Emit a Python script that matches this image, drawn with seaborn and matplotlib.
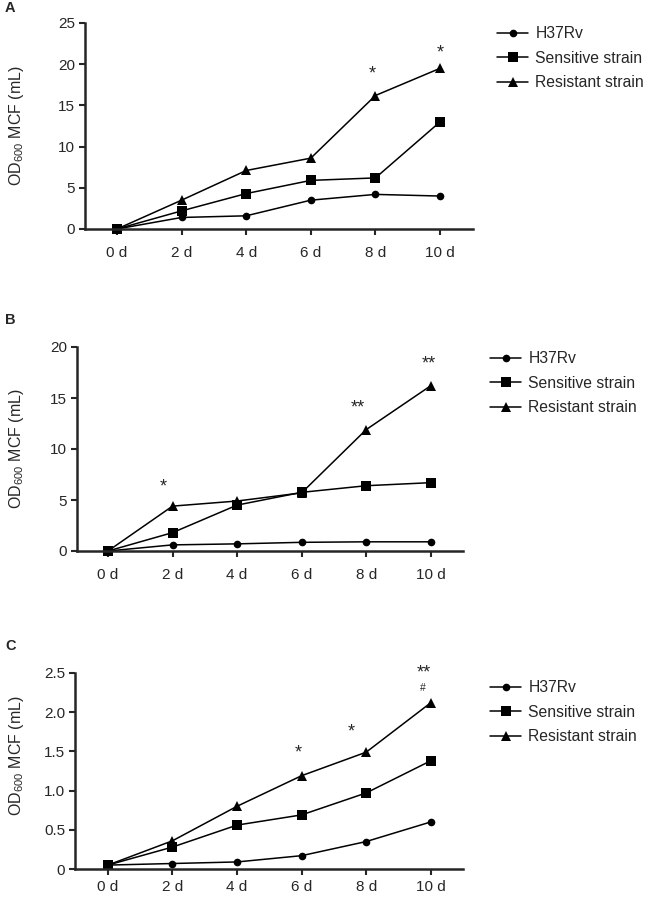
import numpy as np
import pandas as pd
import matplotlib
matplotlib.use('Agg')
import matplotlib.pyplot as plt
import seaborn as sns

# days on x axis
days = [0, 2, 4, 6, 8, 10]
day_labels = ['0 d', '2 d', '4 d', '6 d', '8 d', '10 d']
strains = ['H37Rv', 'Sensitive strain', 'Resistant strain']

# panel A values
a_h37rv = [0.0, 1.4, 1.6, 3.5, 4.2, 4.0]
a_sensitive = [0.0, 2.2, 4.3, 5.9, 6.2, 13.0]
a_resistant = [0.0, 3.5, 7.1, 8.6, 16.2, 19.5]

# panel B values
b_h37rv = [0.0, 0.6, 0.7, 0.85, 0.9, 0.9]
b_sensitive = [0.0, 1.8, 4.5, 5.75, 6.4, 6.7]
b_resistant = [0.0, 4.4, 4.9, 5.7, 11.9, 16.2]

# panel C values
c_h37rv = [0.05, 0.07, 0.09, 0.17, 0.35, 0.6]
c_sensitive = [0.05, 0.28, 0.56, 0.69, 0.97, 1.38]
c_resistant = [0.05, 0.36, 0.8, 1.19, 1.49, 2.12]

# significance marks: (text, day, y)
a_marks = [('*', 7.9, 19.5), ('*', 10.0, 22.0)]
b_marks = [('*', 1.7, 6.8), ('**', 7.75, 14.5), ('**', 9.95, 18.8)]
c_marks = [('*', 5.9, 1.55), ('*', 7.55, 1.82), ('**', 9.8, 2.57)]
c_hash = [('#', 9.75, 2.32)]

a_yticks = [0, 5, 10, 15, 20, 25]
b_yticks = [0, 5, 10, 15, 20]
c_yticks = [0, 0.5, 1.0, 1.5, 2.0, 2.5]
c_ylabels = ['0', '0.5', '1.0', '1.5', '2.0', '2.5']

sns.set_style('ticks')
plt.rcParams['font.family'] = ['Liberation Sans', 'DejaVu Sans']
plt.rcParams['mathtext.fontset'] = 'custom'
plt.rcParams['mathtext.rm'] = 'Liberation Sans'

fig = plt.figure(figsize=(6.47, 8.97), dpi=100)
W, H = 647, 897


def ax_at(left, top, right, bottom):
    return fig.add_axes([left / W, 1 - bottom / H, (right - left) / W, (bottom - top) / H])


marker_style = {'H37Rv': ('o', 5.5), 'Sensitive strain': ('s', 7), 'Resistant strain': ('^', 7)}


def draw_panel(ax, series, xlim, ylim, yticks, ylabels, marks, label_x, leg_xy,
               label_y=0.5, xpad=8):
    df = pd.DataFrame({
        'day': days * 3,
        'value': series[0] + series[1] + series[2],
        'strain': np.repeat(strains, len(days)),
    })
    for s in strains:
        m, ms = marker_style[s]
        sub = df[df['strain'] == s]
        sns.lineplot(data=sub, x='day', y='value', ax=ax, color='black', lw=1.1,
                     marker=m, markersize=ms, markeredgewidth=0, clip_on=False, label=s)
    ax.set_xlim(*xlim)
    ax.set_ylim(*ylim)
    ax.set_xticks(days)
    ax.set_xticklabels(day_labels)
    ax.set_yticks(yticks)
    ax.set_yticklabels(ylabels)
    ax.set_xlabel('')
    ax.set_ylabel(r'OD$_{\mathregular{600}}$ MCF (mL)', fontsize=11.5)
    ax.yaxis.set_label_coords(label_x, label_y)
    sns.despine(ax=ax)
    for sp in ['left', 'bottom']:
        ax.spines[sp].set_linewidth(1.8)
    ax.tick_params(axis='both', direction='out', length=4, width=1.5, labelsize=11, pad=3)
    ax.tick_params(axis='x', pad=xpad)
    for txt, x, y in marks:
        ax.annotate(txt, (x, y), xytext=(0, -7), textcoords='offset points',
                    ha='center', va='baseline', fontsize=13, annotation_clip=False)
    ax.legend(loc='upper left', bbox_to_anchor=(leg_xy[0] / W, 1 - leg_xy[1] / H),
              bbox_transform=fig.transFigure, frameon=False, fontsize=11.3,
              handlelength=2.0, handletextpad=0.45, labelspacing=0.62,
              borderpad=0, borderaxespad=0)


ax_a = ax_at(85, 23, 473, 229)
draw_panel(ax_a, [a_h37rv, a_sensitive, a_resistant], (-0.99, 11.02), (0, 25),
           a_yticks, [str(v) for v in a_yticks], a_marks, -0.152, (497, 26))

ax_b = ax_at(77, 347, 463, 551)
draw_panel(ax_b, [b_h37rv, b_sensitive, b_resistant], (-0.96, 11.0), (0, 20),
           b_yticks, [str(v) for v in b_yticks], b_marks, -0.132, (490, 351))

ax_c = ax_at(75, 673, 463, 869)
draw_panel(ax_c, [c_h37rv, c_sensitive, c_resistant], (-1.02, 11.0), (0, 2.5),
           c_yticks, c_ylabels, c_marks, -0.127, (490, 680), label_y=0.58, xpad=4)
for txt, x, y in c_hash:
    ax_c.annotate(txt, (x, y), xytext=(0, -3), textcoords='offset points',
                  ha='center', va='baseline', fontsize=7.5, annotation_clip=False)

for lab, y in [('A', 8), ('B', 320), ('C', 646)]:
    fig.text(5 / W, 1 - y / H, lab, fontsize=10.5, fontweight='bold', ha='left', va='center')

fig.savefig('out.png', dpi=100)
